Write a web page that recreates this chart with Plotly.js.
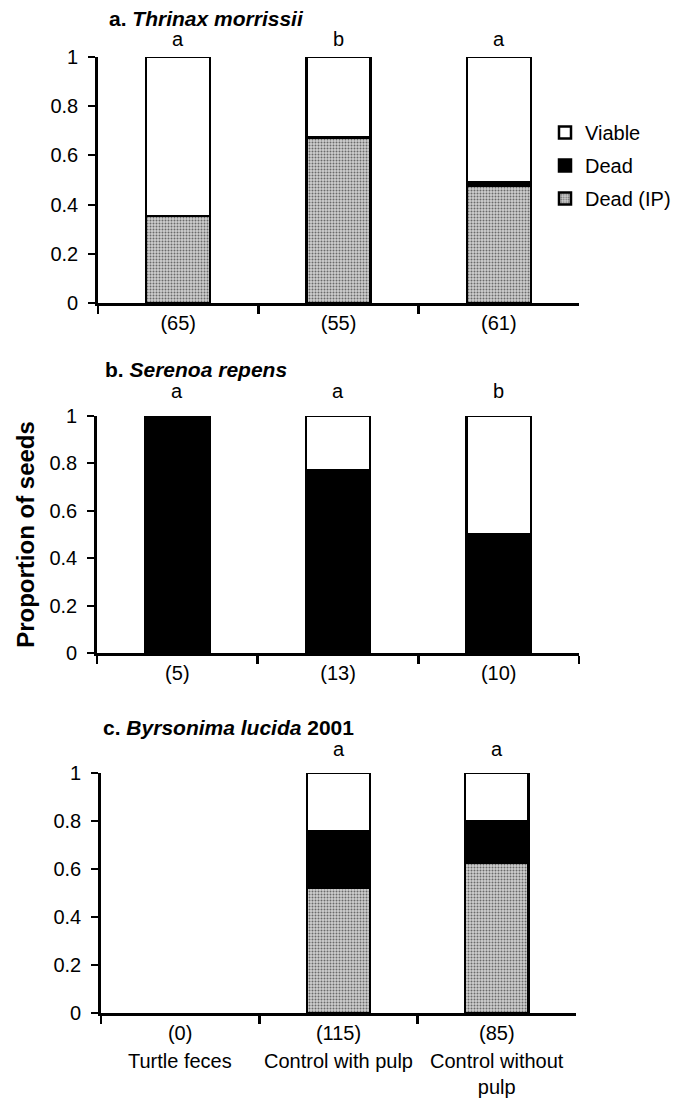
<!DOCTYPE html>
<html>
<head>
<meta charset="utf-8">
<script src="https://cdn.plot.ly/plotly-3.0.1.min.js"></script>
<style>html,body{margin:0;padding:0;background:#fff;}#chart{width:678px;height:1098px;}</style>
</head>
<body>
<div id="chart"></div>
<script>
// ---- data ----
const categories = ['Turtle feces', 'Control with pulp', 'Control without pulp'];
const categoryLabels = ['Turtle feces', 'Control with pulp', 'Control without<br>pulp'];

const thrinaxN = ['(65)', '(55)', '(61)'];
const thrinaxDeadIP = [0.354, 0.673, 0.475];
const thrinaxDead = [0, 0, 0.016];
const thrinaxViable = [0.646, 0.327, 0.509];
const thrinaxLetters = ['a', 'b', 'a'];

const serenoaN = ['(5)', '(13)', '(10)'];
const serenoaDeadIP = [0, 0, 0];
const serenoaDead = [1.0, 0.77, 0.5];
const serenoaViable = [0, 0.23, 0.5];
const serenoaLetters = ['a', 'a', 'b'];

const byrsonimaN = ['(0)', '(115)', '(85)'];
const byrsonimaDeadIP = [null, 0.522, 0.624];
const byrsonimaDead = [null, 0.235, 0.176];
const byrsonimaViable = [null, 0.243, 0.2];
const byrsonimaLetters = ['', 'a', 'a'];

const seriesNames = ['Dead (IP)', 'Dead', 'Viable'];
const panelTitles = [
  '<b>a. <i>Thrinax morrissii</i></b>',
  '<b>b. <i>Serenoa repens</i></b>',
  '<b>c. <i>Byrsonima lucida</i> 2001</b>'
];

// ---- styles ----
const FONT = 'Liberation Sans, Arial, Helvetica, sans-serif';
const H = 1098, W = 678;
const lineStyle = {color: '#000', width: 2.5};
const styles = {
  'Dead (IP)': {color: '#cbcbcb', line: lineStyle,
    pattern: {shape: '.', bgcolor: '#cfcfcf', fgcolor: '#6a6a6a', size: 3, solidity: 0.35}},
  'Dead': {color: '#000', line: lineStyle},
  'Viable': {color: '#fff', line: lineStyle}
};
const groups = {'Dead (IP)': 'ip', 'Dead': 'd', 'Viable': 'v'};

const panels = [
  {vals: [thrinaxDeadIP, thrinaxDead, thrinaxViable], n: thrinaxN, letters: thrinaxLetters, xa: 'x', ya: 'y'},
  {vals: [serenoaDeadIP, serenoaDead, serenoaViable], n: serenoaN, letters: serenoaLetters, xa: 'x2', ya: 'y2'},
  {vals: [byrsonimaDeadIP, byrsonimaDead, byrsonimaViable], n: byrsonimaN, letters: byrsonimaLetters, xa: 'x3', ya: 'y3'}
];

const traces = [];
panels.forEach((p, pi) => {
  seriesNames.forEach((name, si) => {
    traces.push({
      type: 'bar', name: name, x: categories, y: p.vals[si],
      xaxis: p.xa, yaxis: p.ya, marker: styles[name],
      legendgroup: groups[name], legendrank: 3 - si, showlegend: pi === 0,
      cliponaxis: false, hoverinfo: 'name+y'
    });
  });
});

const px2x = v => v / W;
const px2y = v => 1 - v / H;

function xAxis(domain, ticktext) {
  return {
    domain: domain, type: 'category', categoryorder: 'array', categoryarray: categories,
    tickmode: 'array', tickvals: categories, ticktext: ticktext,
    showline: true, linecolor: '#000', linewidth: 2.8,
    ticks: 'outside', tickson: 'boundaries', ticklen: 8, tickwidth: 2.5, tickcolor: '#000',
    tickfont: {family: FONT, size: 20, color: '#000'},
    showgrid: false, zeroline: false, fixedrange: true
  };
}
function yAxis(domain, anchor) {
  return {
    domain: domain, anchor: anchor, range: [0, 1], tickvals: [0, 0.2, 0.4, 0.6, 0.8, 1],
    showline: true, linecolor: '#000', linewidth: 2.8,
    ticks: 'outside', ticklen: 7, tickwidth: 2, tickcolor: '#000', ticklabelstandoff: 6,
    tickfont: {family: FONT, size: 20, color: '#000'},
    showgrid: false, zeroline: false, fixedrange: true
  };
}

const xa1 = xAxis([px2x(98), px2x(579)], thrinaxN); xa1.anchor = 'y';
const xa2 = xAxis([px2x(97), px2x(579)], serenoaN); xa2.anchor = 'y2';
const xa3 = xAxis([px2x(101), px2x(576)], byrsonimaN); xa3.anchor = 'y3';
const ya1 = yAxis([px2y(303), px2y(57)], 'x');
const ya2 = yAxis([px2y(653), px2y(416)], 'x2');
ya2.title = {text: '<b>Proportion of seeds</b>', font: {family: FONT, size: 24, color: '#000'}, standoff: 8};
const ya3 = yAxis([px2y(1013), px2y(773)], 'x3');

const annotations = [];
// panel titles
const titlePos = [[107, 18], [103, 369], [101, 727]];
panelTitles.forEach((t, i) => {
  annotations.push({text: t, xref: 'paper', yref: 'paper', x: px2x(titlePos[i][0]), y: px2y(titlePos[i][1]),
    xanchor: 'left', yanchor: 'middle', showarrow: false, font: {family: FONT, size: 21, color: '#000'}});
});
// significance letters
const letterShift = [18, 25, 24];
panels.forEach((p, i) => {
  p.letters.forEach((l, ci) => {
    if (!l) return;
    annotations.push({text: l, xref: p.xa, yref: p.ya + ' domain', x: categories[ci], y: 1,
      yanchor: 'middle', yshift: letterShift[i], showarrow: false,
      font: {family: FONT, size: 20, color: '#000'}});
  });
});
// category names under panel c
categoryLabels.forEach((lab, ci) => {
  annotations.push({text: lab, xref: 'x3', yref: 'y3 domain', x: categories[ci], y: 0,
    yanchor: 'top', yshift: -35, showarrow: false, align: 'center',
    font: {family: FONT, size: 20, color: '#000'}});
});

const layout = {
  width: W, height: H, margin: {l: 0, r: 0, t: 0, b: 0},
  paper_bgcolor: '#fff', plot_bgcolor: 'rgba(0,0,0,0)',
  barmode: 'stack', bargap: 0.6,
  font: {family: FONT, size: 20, color: '#000'},
  xaxis: xa1, yaxis: ya1, xaxis2: xa2, yaxis2: ya2, xaxis3: xa3, yaxis3: ya3,
  showlegend: true,
  legend: {x: px2x(545), y: px2y(113), xanchor: 'left', yanchor: 'top',
    traceorder: 'grouped', tracegroupgap: 4,
    font: {family: FONT, size: 20, color: '#000'}, bgcolor: 'rgba(0,0,0,0)'},
  annotations: annotations
};

Plotly.newPlot('chart', traces, layout, {displayModeBar: false, staticPlot: true});
</script>
</body>
</html>
